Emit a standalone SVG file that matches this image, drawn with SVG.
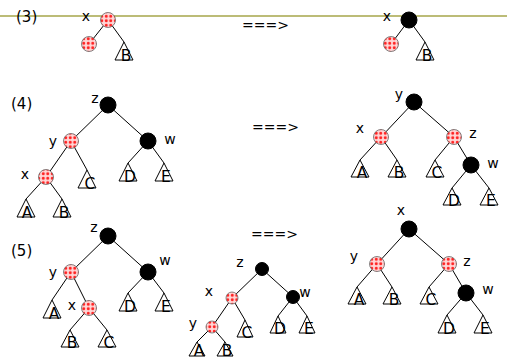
<svg xmlns="http://www.w3.org/2000/svg" width="507" height="360" viewBox="0 0 507 360">
  <defs>
    <pattern id="dots" x="0.5" y="0.5" width="4.5" height="4.5" patternUnits="userSpaceOnUse">
      <rect width="4.5" height="4.5" fill="#ffd6d6"/>
      <circle cx="2.25" cy="2.25" r="1.5" fill="#ff2020"/>
    </pattern>
    <style>
      text { font-family: "DejaVu Sans", Verdana, sans-serif; fill: #000; }
      .lbl { font-size: 14px; text-anchor: middle; }
      .num { font-size: 15px; }
      .arrow { font-size: 14px; }
      .leaf { font-size: 15.5px; text-anchor: middle; }
      .red { fill: url(#dots); stroke: #666; stroke-width: 0.8; }
      .blk { fill: #000; stroke: #000; stroke-width: 1; }
      .tri { fill: none; stroke: #000; stroke-width: 1; }
      .edge { stroke: #000; stroke-width: 1; fill: none; }
    </style>
  </defs>
  <rect width="507" height="360" fill="#fff"/>
  <!-- header rule -->
  <line x1="0" y1="16" x2="507" y2="16" stroke="#a6a64a" stroke-width="1.6"/>

  <!-- section labels and arrows -->
  <g id="captions">
    <text class="num" x="16" y="22">(3)</text>
    <text class="num" x="11" y="109">(4)</text>
    <text class="num" x="11" y="256">(5)</text>
    <text class="arrow" x="242" y="30">===&gt;</text>
    <text class="arrow" x="252" y="132">===&gt;</text>
    <text class="arrow" x="251" y="239">===&gt;</text>
  </g>

  <!-- connectors -->
  <g id="edges" class="edge">
    <!-- case 3 -->
    <path d="M108 20L89 44M108 20L124 42"/>
    <path d="M409 20L391 44M409 20L425 42"/>
    <!-- case 4 -->
    <path d="M108 105L71 141M108 105L148 141M71 141L46 177M71 141L87 170M148 141L128 163M148 141L164 163M46 177L26 199M46 177L62 199"/>
    <path d="M414 102L381 137M414 102L454 137M381 137L360 160M381 137L397 160M454 137L435 160M454 137L471 165M471 165L452 188M471 165L489 188"/>
    <!-- case 5 -->
    <path d="M108 236L71 272M108 236L148 272M71 272L52 300M71 272L89 308M148 272L128 293M148 272L164 293M89 308L70 330M89 308L107 330"/>
    <path d="M262 269L232 298M262 269L293 297M232 298L212 327M232 298L245 320M293 297L278 316M293 297L307 316M212 327L197 342M212 327L225 342"/>
    <path d="M409 229L377 264M409 229L449 264M377 264L357 287M377 264L392 287M449 264L429 287M449 264L466 293M466 293L447 315M466 293L483 315"/>
  </g>

  <!-- case 3, before -->
  <g id="c3a-x"><circle class="red" cx="108" cy="20" r="7.5"/><text class="lbl" x="86" y="21">x</text></g>
  <g id="c3a-l"><circle class="red" cx="89" cy="44" r="7.5"/></g>
  <g id="c3a-B"><path class="tri" d="M124 42L115 60H133Z"/><text class="leaf" x="126" y="61">B</text></g>

  <!-- case 3, after -->
  <g id="c3b-x"><circle class="blk" cx="409" cy="20" r="8"/><text class="lbl" x="387" y="21">x</text></g>
  <g id="c3b-l"><circle class="red" cx="391" cy="44" r="7.5"/></g>
  <g id="c3b-B"><path class="tri" d="M425 42L416 60H434Z"/><text class="leaf" x="427" y="61">B</text></g>

  <!-- case 4, before -->
  <g id="c4a-z"><circle class="blk" cx="108" cy="105" r="8"/><text class="lbl" x="95" y="103">z</text></g>
  <g id="c4a-y"><circle class="red" cx="71" cy="141" r="7.5"/><text class="lbl" x="53" y="146">y</text></g>
  <g id="c4a-w"><circle class="blk" cx="148" cy="141" r="8"/><text class="lbl" x="170" y="144">w</text></g>
  <g id="c4a-x"><circle class="red" cx="46" cy="177" r="7.5"/><text class="lbl" x="25" y="179">x</text></g>
  <g id="c4a-C"><path class="tri" d="M87 170L78 188H96Z"/><text class="leaf" x="90" y="189">C</text></g>
  <g id="c4a-D"><path class="tri" d="M128 163L119 181H137Z"/><text class="leaf" x="130" y="182">D</text></g>
  <g id="c4a-E"><path class="tri" d="M164 163L155 181H173Z"/><text class="leaf" x="166" y="182">E</text></g>
  <g id="c4a-A"><path class="tri" d="M26 199L17 217H35Z"/><text class="leaf" x="27" y="218">A</text></g>
  <g id="c4a-B"><path class="tri" d="M62 199L53 217H71Z"/><text class="leaf" x="64" y="218">B</text></g>

  <!-- case 4, after -->
  <g id="c4b-y"><circle class="blk" cx="414" cy="102" r="8"/><text class="lbl" x="399" y="99">y</text></g>
  <g id="c4b-x"><circle class="red" cx="381" cy="137" r="7.5"/><text class="lbl" x="360" y="133">x</text></g>
  <g id="c4b-z"><circle class="red" cx="454" cy="137" r="7.5"/><text class="lbl" x="473" y="138">z</text></g>
  <g id="c4b-w"><circle class="blk" cx="471" cy="165" r="8"/><text class="lbl" x="493" y="168">w</text></g>
  <g id="c4b-A"><path class="tri" d="M360 160L351 177H369Z"/><text class="leaf" x="362" y="178">A</text></g>
  <g id="c4b-B"><path class="tri" d="M397 160L388 177H406Z"/><text class="leaf" x="399" y="178">B</text></g>
  <g id="c4b-C"><path class="tri" d="M435 160L426 177H444Z"/><text class="leaf" x="437" y="178">C</text></g>
  <g id="c4b-D"><path class="tri" d="M452 188L443 205H461Z"/><text class="leaf" x="454" y="206">D</text></g>
  <g id="c4b-E"><path class="tri" d="M489 188L480 205H498Z"/><text class="leaf" x="491" y="206">E</text></g>

  <!-- case 5, before -->
  <g id="c5a-z"><circle class="blk" cx="108" cy="236" r="8"/><text class="lbl" x="94" y="232">z</text></g>
  <g id="c5a-y"><circle class="red" cx="71" cy="272" r="7.5"/><text class="lbl" x="53" y="277">y</text></g>
  <g id="c5a-w"><circle class="blk" cx="148" cy="272" r="8"/><text class="lbl" x="165" y="265">w</text></g>
  <g id="c5a-x"><circle class="red" cx="89" cy="308" r="7.5"/><text class="lbl" x="72" y="310">x</text></g>
  <g id="c5a-A"><path class="tri" d="M52 300L43 318H61Z"/><text class="leaf" x="54" y="319">A</text></g>
  <g id="c5a-D"><path class="tri" d="M128 293L119 311H137Z"/><text class="leaf" x="130" y="312">D</text></g>
  <g id="c5a-E"><path class="tri" d="M164 293L155 311H173Z"/><text class="leaf" x="166" y="312">E</text></g>
  <g id="c5a-B"><path class="tri" d="M70 330L61 347H79Z"/><text class="leaf" x="72" y="348">B</text></g>
  <g id="c5a-C"><path class="tri" d="M107 330L98 347H116Z"/><text class="leaf" x="109" y="348">C</text></g>

  <!-- case 5, middle -->
  <g id="c5b-z"><circle class="blk" cx="262" cy="269" r="6.5"/><text class="lbl" x="240" y="267">z</text></g>
  <g id="c5b-x"><circle class="red" cx="232" cy="298" r="6"/><text class="lbl" x="209" y="296">x</text></g>
  <g id="c5b-w"><circle class="blk" cx="293" cy="297" r="6.5"/><text class="lbl" x="305" y="297">w</text></g>
  <g id="c5b-y"><circle class="red" cx="212" cy="327" r="6"/><text class="lbl" x="193" y="328">y</text></g>
  <g id="c5b-C"><path class="tri" d="M245 320L237 337H253Z"/><text class="leaf" x="247" y="338">C</text></g>
  <g id="c5b-D"><path class="tri" d="M278 316L270 333H286Z"/><text class="leaf" x="280" y="334">D</text></g>
  <g id="c5b-E"><path class="tri" d="M307 316L299 333H315Z"/><text class="leaf" x="309" y="334">E</text></g>
  <g id="c5b-A"><path class="tri" d="M197 342L189 356H205Z"/><text class="leaf" x="199" y="356">A</text></g>
  <g id="c5b-B"><path class="tri" d="M225 342L217 356H233Z"/><text class="leaf" x="227" y="356">B</text></g>

  <!-- case 5, after -->
  <g id="c5c-x"><circle class="blk" cx="409" cy="229" r="8"/><text class="lbl" x="401" y="215">x</text></g>
  <g id="c5c-y"><circle class="red" cx="377" cy="264" r="7.5"/><text class="lbl" x="354" y="261">y</text></g>
  <g id="c5c-z"><circle class="red" cx="449" cy="264" r="7.5"/><text class="lbl" x="467" y="266">z</text></g>
  <g id="c5c-w"><circle class="blk" cx="466" cy="293" r="8"/><text class="lbl" x="488" y="294">w</text></g>
  <g id="c5c-A"><path class="tri" d="M357 287L348 304H366Z"/><text class="leaf" x="359" y="305">A</text></g>
  <g id="c5c-B"><path class="tri" d="M392 287L383 304H401Z"/><text class="leaf" x="394" y="305">B</text></g>
  <g id="c5c-C"><path class="tri" d="M429 287L420 304H438Z"/><text class="leaf" x="431" y="305">C</text></g>
  <g id="c5c-D"><path class="tri" d="M447 315L438 333H456Z"/><text class="leaf" x="449" y="334">D</text></g>
  <g id="c5c-E"><path class="tri" d="M483 315L474 333H492Z"/><text class="leaf" x="485" y="334">E</text></g>
</svg>
